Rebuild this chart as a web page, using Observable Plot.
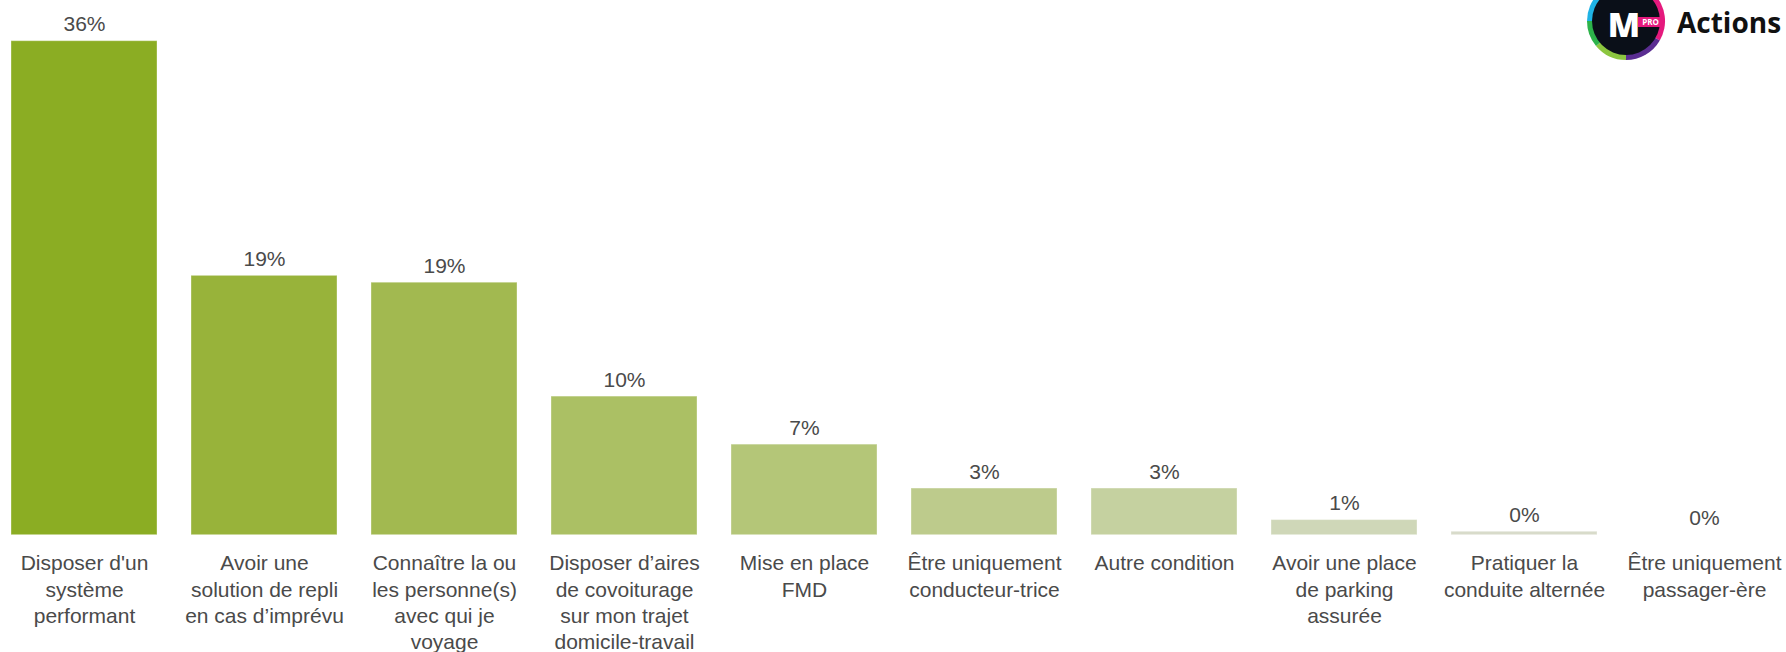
<!DOCTYPE html>
<html>
<head>
<meta charset="utf-8">
<script src="https://cdn.jsdelivr.net/npm/d3@7"></script>
<script src="https://cdn.jsdelivr.net/npm/@observablehq/plot@0.6"></script>
<style>
  html, body { margin: 0; padding: 0; background: #fff; }
  #wrap { position: relative; width: 1786px; height: 652px; overflow: hidden; }
  #logo { position: absolute; left: 0; top: 0; pointer-events: none; }
</style>
</head>
<body>
<div id="wrap">
  <div id="chart"></div>
  <svg id="logo" width="1786" height="80" viewBox="0 0 1786 80">
    <g transform="translate(1626,21)">
      <path d="M0,-39 A39,39 0 0 1 27.6,-27.6 L0,0Z" fill="#f4d21a"/>
      <path d="M27.6,-27.6 A39,39 0 0 1 33.8,19.5 L0,0Z" fill="#e5197d"/>
      <path d="M33.8,19.5 A39,39 0 0 1 0,39 L0,0Z" fill="#5a2d91"/>
      <path d="M0,39 A39,39 0 0 1 -30,25 L0,0Z" fill="#8cc63f"/>
      <path d="M-30,25 A39,39 0 0 1 -39,0 L0,0Z" fill="#2db34a"/>
      <path d="M-39,0 A39,39 0 0 1 0,-39 L0,0Z" fill="#1fb3e5"/>
      <circle r="34" fill="#0a0f18"/>
      <text x="-2" y="15.5" text-anchor="middle" font-family="Open Sans, DejaVu Sans, sans-serif" font-weight="800" font-size="33.5" fill="#fff">M</text>
      <rect x="12" y="-4" width="25" height="10" fill="#e5197d"/>
      <text x="24.5" y="4" text-anchor="middle" font-family="Open Sans, sans-serif" font-weight="700" font-size="8" fill="#fff">PRO</text>
    </g>
    <text x="1677" y="33" font-family="Open Sans, sans-serif" font-weight="700" font-size="28" fill="#111">Actions</text>
  </svg>
</div>
<script>
const categories = [
  "Disposer d'un\nsystème\nperformant",
  "Avoir une\nsolution de repli\nen cas d’imprévu",
  "Connaître la ou\nles personne(s)\navec qui je\nvoyage",
  "Disposer d’aires\nde covoiturage\nsur mon trajet\ndomicile-travail",
  "Mise en place\nFMD",
  "Être uniquement\nconducteur-trice",
  "Autre condition",
  "Avoir une place\nde parking\nassurée",
  "Pratiquer la\nconduite alternée",
  "Être uniquement\npassager-ère"
];
const values = [36.0, 18.9, 18.4, 10.1, 6.6, 3.4, 3.4, 1.1, 0.25, 0];
const valueLabels = ["36%", "19%", "19%", "10%", "7%", "3%", "3%", "1%", "0%", "0%"];
const barColors = ["#8bad23", "#98b33a", "#a2b950", "#abc064", "#b4c678", "#bdcb8c", "#c5d1a0", "#cfd7b8", "#d8dbca", "#e0e1d8"];

const data = categories.map((c, i) => ({cat: c, value: values[i], label: valueLabels[i]}));

const chart = Plot.plot({
  width: 1786,
  height: 652,
  marginTop: 40.7,
  marginBottom: 117.3,
  marginLeft: 0,
  marginRight: 0,
  style: {fontFamily: "Liberation Sans, Arial, sans-serif", background: "#fff"},
  x: {type: "band", domain: categories, range: [-7.3, 1795.7], paddingInner: 0.19, paddingOuter: 0.095, label: null},
  y: {domain: [0, 36], axis: null},
  color: {domain: categories, range: barColors},
  marks: [
    Plot.barY(data, {x: "cat", y: "value", fill: "cat", stroke: "#ffffff", strokeOpacity: 0.35, strokeWidth: 1}),
    Plot.text(data, {x: "cat", y: "value", text: "label", lineAnchor: "bottom", dy: -10, fontSize: 21, fill: "#4a4a4a"}),
    Plot.axisX({tickSize: 0, tickPadding: 16.5, fontSize: 21, lineHeight: 1.25, fill: "#4a4a4a", label: null})
  ]
});
document.getElementById("chart").appendChild(chart);
</script>
</body>
</html>
